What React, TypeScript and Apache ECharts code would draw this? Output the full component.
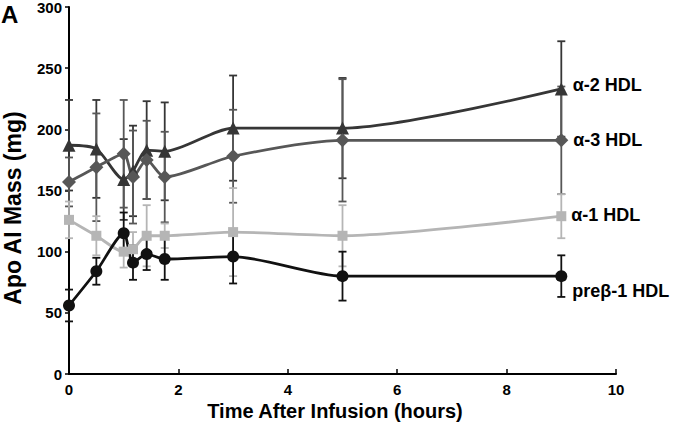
import React, { useEffect, useRef } from "react";
import * as echarts from "echarts";

const times = [0, 0.5, 1, 1.17, 1.42, 1.75, 3, 5, 9];

const alpha2 = [187, 184, 159, 166, 183, 182, 201, 201, 233];
const alpha2Err = [37, 40, 33, 37, 40, 40, 43, 41, 39];

const alpha3 = [157, 169, 180, 161, 175, 161, 178, 191, 191];
const alpha3Err = [20, 44, 44, 38, 32, 37, 38, 50, 44];

const alpha1 = [126, 113, 100, 102, 113, 113, 116, 113, 129];
const alpha1Err = [15, 16, 13, 14, 25, 10, 36, 25, 18];

const preBeta1 = [56, 84, 115, 91, 98, 94, 96, 80, 80];
const preBeta1Err = [13, 11, 17, 14, 13, 17, 22, 20, 17];

const xTicks = [0, 2, 4, 6, 8, 10];
const yTicks = [0, 50, 100, 150, 200, 250, 300];

const seriesDefs = [
  { name: "α-2 HDL", values: alpha2, err: alpha2Err, color: "#363636", symbol: "triangle", size: 13, labelOffset: -4 },
  { name: "α-3 HDL", values: alpha3, err: alpha3Err, color: "#575757", symbol: "diamond", size: 14, labelOffset: 0 },
  { name: "α-1 HDL", values: alpha1, err: alpha1Err, color: "#b5b5b5", symbol: "rect", size: 10, labelOffset: -1 },
  { name: "preβ-1 HDL", values: preBeta1, err: preBeta1Err, color: "#111111", symbol: "circle", size: 12, labelOffset: 15 },
];

const FONT = "'Liberation Sans', Arial, sans-serif";

export default function App() {
  const ref = useRef<HTMLDivElement>(null);
  useEffect(() => {
    if (!ref.current) return;
    const chart = echarts.init(ref.current, null, { renderer: "svg" });

    const errorSeries = seriesDefs.map((s) => ({
      type: "custom",
      name: s.name + " err",
      z: 1,
      silent: true,
      clip: false,
      data: times.map((t, i) => [t, s.values[i] - s.err[i], s.values[i] + s.err[i]]),
      encode: { x: 0, y: [1, 2] },
      renderItem: (params: any, api: any) => {
        const x = api.value(0);
        const top = api.coord([x, api.value(2)]);
        const bot = api.coord([x, api.value(1)]);
        const hw = 4;
        const style = { stroke: s.color, lineWidth: 1.8 };
        return {
          type: "group",
          children: [
            { type: "line", shape: { x1: top[0], y1: top[1], x2: bot[0], y2: bot[1] }, style },
            { type: "line", shape: { x1: top[0] - hw, y1: top[1], x2: top[0] + hw, y2: top[1] }, style },
            { type: "line", shape: { x1: bot[0] - hw, y1: bot[1], x2: bot[0] + hw, y2: bot[1] }, style },
          ],
        };
      },
    }));

    const lineSeries = seriesDefs.map((s) => ({
      type: "line",
      name: s.name,
      z: 3,
      smooth: 0.25,
      symbol: s.symbol,
      symbolSize: s.size,
      lineStyle: { color: s.color, width: 2.8 },
      itemStyle: { color: s.color },
      data: times.map((t, i) => {
        const item: any = { value: [t, s.values[i]] };
        if (i === times.length - 1) {
          item.label = {
            show: true,
            position: "right",
            distance: 5,
            offset: [0, s.labelOffset],
            formatter: s.name,
            color: "#000",
            fontFamily: FONT,
            fontWeight: "bold",
            fontSize: 18,
          };
        }
        return item;
      }),
    }));

    chart.setOption({
      animation: false,
      backgroundColor: "#fff",
      grid: { left: 69, right: 59, top: 7, bottom: 52, containLabel: false, outerBoundsMode: "none" },
      xAxis: {
        type: "value",
        min: 0,
        max: 10,
        interval: 2,
        axisLine: { show: true, lineStyle: { color: "#000", width: 2 } },
        axisTick: { show: true, inside: true, length: 5, lineStyle: { color: "#000", width: 1.5 } },
        splitLine: { show: false },
        axisLabel: {
          margin: 8,
          color: "#000",
          fontFamily: FONT,
          fontWeight: "bold",
          fontSize: 15,
          formatter: (v: number) => (xTicks.includes(v) ? String(v) : ""),
        },
      },
      yAxis: {
        type: "value",
        min: 0,
        max: 300,
        interval: 50,
        axisLine: { show: true, lineStyle: { color: "#000", width: 2 } },
        axisTick: { show: true, inside: false, length: 4, lineStyle: { color: "#000", width: 1.5 } },
        splitLine: { show: false },
        axisLabel: {
          margin: 7,
          color: "#000",
          fontFamily: FONT,
          fontWeight: "bold",
          fontSize: 15,
          formatter: (v: number) => (yTicks.includes(v) ? String(v) : ""),
        },
      },
      graphic: [
        {
          type: "text",
          left: 1,
          top: 2,
          style: { text: "A", fill: "#000", font: `bold 24px ${FONT}` },
        },
        {
          type: "text",
          x: 13,
          y: 208,
          rotation: Math.PI / 2,
          style: {
            text: "Apo AI Mass (mg)",
            fill: "#000",
            font: `bold 23px ${FONT}`,
            align: "center",
            verticalAlign: "middle",
          },
        },
        {
          type: "text",
          x: 335,
          y: 411,
          style: {
            text: "Time After Infusion (hours)",
            fill: "#000",
            font: `bold 20px ${FONT}`,
            align: "center",
            verticalAlign: "middle",
          },
        },
      ],
      series: [...errorSeries, ...lineSeries],
    });

    return () => chart.dispose();
  }, []);

  return <div ref={ref} style={{ width: 675, height: 426, position: "absolute", left: 0, top: 0 }} />;
}
